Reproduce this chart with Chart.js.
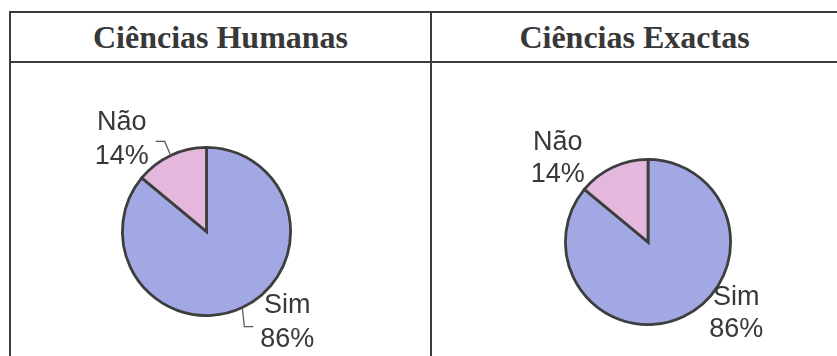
<!DOCTYPE html>
<html lang="pt">
<head>
<meta charset="utf-8">
<title>Ciências Humanas / Ciências Exactas</title>
<script src="https://cdn.jsdelivr.net/npm/chart.js@4"></script>
<style>
  html, body { margin: 0; padding: 0; background: #fff; }
  #page { position: relative; width: 837px; height: 356px; overflow: hidden; background: #fff; }
  .rule { position: absolute; background: #3c3c3c; }
  .head {
    position: absolute; top: 13px; height: 48px; line-height: 48px;
    text-align: center; font-family: "Liberation Serif", "Times New Roman", serif;
    font-weight: bold; font-size: 32px; color: #383838;
  }
  .cell { position: absolute; top: 64px; height: 292px; }
</style>
</head>
<body>
<div id="page">
  <!-- tabela -->
  <div class="rule" style="left:9px; top:11px; width:828px; height:2px;"></div>
  <div class="rule" style="left:9px; top:61px; width:828px; height:2px;"></div>
  <div class="rule" style="left:9px; top:11px; width:2px; height:345px;"></div>
  <div class="rule" style="left:430px; top:11px; width:2px; height:345px;"></div>

  <div class="head" id="head1" style="left:11px; width:419px;"></div>
  <div class="head" id="head2" style="left:432px; width:405px;"></div>

  <div class="cell" style="left:11px; width:419px;"><canvas id="pie1"></canvas></div>
  <div class="cell" style="left:432px; width:405px;"><canvas id="pie2"></canvas></div>
</div>

<script>
// Dados
const titles = ['Ciências Humanas', 'Ciências Exactas'];
const categories = ['Sim', 'Não'];
const humanas = [86, 14];
const exactas = [86, 14];

const sliceColors = ['#a2a8e4', '#e4b8dc'];
const edgeColor = '#3e3e3e';
const textColor = '#383838';

document.getElementById('head1').textContent = titles[0];
document.getElementById('head2').textContent = titles[1];

/**
 * Rótulos "categoria / percentagem" fora das fatias.
 * Cada fatia tem um deslocamento do bloco de texto em relação ao ponto
 * médio do seu arco; se leader = true desenha-se a linha de ligação.
 */
const outsideLabels = {
  id: 'outsideLabels',
  afterDatasetsDraw(chart, args, opts) {
    const { ctx } = chart;
    const meta = chart.getDatasetMeta(0);
    const values = chart.data.datasets[0].data;
    const total = values.reduce((a, b) => a + b, 0);

    ctx.save();
    ctx.font = '27px "Liberation Sans", Arial, sans-serif';
    ctx.fillStyle = textColor;
    ctx.textAlign = 'center';
    ctx.textBaseline = 'middle';

    meta.data.forEach((arc, i) => {
      const p = arc.getProps(['x', 'y', 'startAngle', 'endAngle', 'outerRadius'], true);
      const mid = (p.startAngle + p.endAngle) / 2;
      const ex = p.x + Math.cos(mid) * p.outerRadius;
      const ey = p.y + Math.sin(mid) * p.outerRadius;
      const off = opts.offsets[i];
      const cx = ex + off[0];
      const cy = ey + off[1];

      if (opts.leader) {
        const side = off[0] < 0 ? 1 : -1;
        const endX = cx + side * 34;
        const elbowX = cx + side * 43;
        const lineY = cy + off[2];
        ctx.strokeStyle = '#555';
        ctx.lineWidth = 1.2;
        ctx.beginPath();
        ctx.moveTo(ex, ey);
        ctx.lineTo(elbowX, lineY);
        ctx.lineTo(endX, lineY);
        ctx.stroke();
      }

      const pct = Math.round(values[i] / total * 100) + '%';
      ctx.fillText(chart.data.labels[i], cx, cy - opts.gap / 2);
      ctx.fillText(pct, cx, cy + opts.gap / 2);
    });
    ctx.restore();
  }
};

function makePie(id, values, padding, labelOpts) {
  return new Chart(document.getElementById(id), {
    type: 'pie',
    data: {
      labels: categories,
      datasets: [{
        data: values,
        backgroundColor: sliceColors,
        borderColor: edgeColor,
        borderWidth: 2.8,
        borderJoinStyle: 'miter'
      }]
    },
    options: {
      responsive: true,
      maintainAspectRatio: false,
      animation: false,
      rotation: 0,
      layout: { padding: padding },
      plugins: {
        legend: { display: false },
        tooltip: { enabled: false },
        outsideLabels: labelOpts
      }
    },
    plugins: [outsideLabels]
  });
}

// pizza 1: centro ~ (196,168) na célula, raio ~84
makePie('pie1', humanas,
  { left: 110, right: 138, top: 82, bottom: 39 },
  { leader: true, gap: 34, offsets: [[45, 15, 4], [-49, -16, 2]] });

// pizza 2: centro ~ (215,178) na célula, raio ~82
makePie('pie2', exactas,
  { left: 132, right: 105, top: 94, bottom: 30 },
  { leader: false, gap: 32, offsets: [[53, -3, 0], [-55, -9, 0]] });
</script>
</body>
</html>
